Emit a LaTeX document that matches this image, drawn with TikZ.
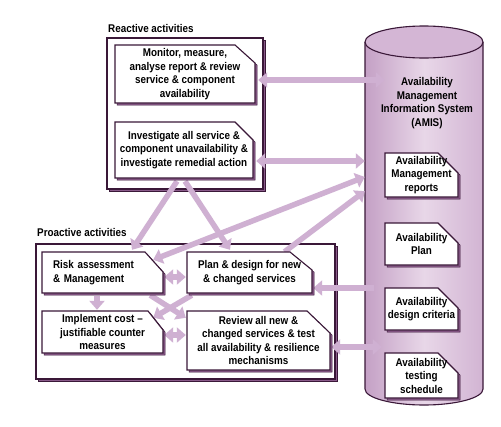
\documentclass[tikz,border=0pt]{standalone}
\usepackage{fontspec}
\setmainfont{Liberation Sans}[FakeStretch=0.88]
\usetikzlibrary{arrows.meta,calc}
\definecolor{dk}{HTML}{3A1838}
\definecolor{shc}{HTML}{8A5A8A}
\definecolor{arrc}{HTML}{CFB0D2}
\definecolor{cylA}{HTML}{C4A0C5}
\definecolor{cylB}{HTML}{E8D7E8}
\definecolor{cylC}{HTML}{D2B4D3}
\definecolor{cyltop}{HTML}{D4B6D5}
\pgfdeclarelayer{bg}
\pgfdeclarelayer{mid}
\pgfsetlayers{bg,mid,main}
\tikzset{
  txt/.style={font=\bfseries\fontsize{11.2}{13.5}\selectfont, align=center, inner sep=0pt, text=black},
  arr/.style={draw=arrc, line width=5.5pt, -{Triangle[width=15pt,length=9pt]}},
  darr/.style={draw=arrc, line width=5.5pt, {Triangle[width=15pt,length=9pt]}-{Triangle[width=15pt,length=9pt]}},
  shadowst/.style={fill=shc, draw=dk, line width=0.5pt},
  boxst/.style={fill=white, draw=dk, line width=1.1pt},
}
\newcommand\dogbox[9]{%
  \filldraw[shadowst] (#2+2.2,#3+2.2) -- (#4-#6+2.2,#3+2.2) -- (#4+2.2,#3+#7+2.2) -- (#4+2.2,#5+2.2) -- (#2+2.2,#5+2.2) -- cycle;
  \filldraw[boxst] (#2,#3) -- (#4-#6,#3) -- (#4,#3+#7) -- (#4,#5) -- (#2,#5) -- cycle;
  \node[txt, minimum width={#4-#2}, minimum height={#5-#3}, #8] (#1) at ({(#2+#4)/2},{(#3+#5)/2}) {#9};
}
\begin{document}
\begin{tikzpicture}[x=1pt,y=-1pt]
\begin{pgfonlayer}{bg}
\useasboundingbox[fill=white] (0,0) rectangle (501,426);
% outer boxes
\filldraw[shadowst] (109.2,40.2) rectangle (265.2,191.2);
\node[boxst, inner sep=0pt, minimum width=156, minimum height=151] (reac) at (185,113.5) {};
\filldraw[shadowst] (38.2,246.2) rectangle (337.2,381.2);
\node[boxst, inner sep=0pt, minimum width=299, minimum height=135] (proa) at (185.5,311.5) {};
% cylinder
\shade[left color=cylA, right color=cylC, middle color=cylB] (365,42) -- (365,389) arc[start angle=180, end angle=360, x radius=59pt, y radius=16pt] -- (483,42) -- cycle;
\draw[dk, line width=1.1pt] (365,42) -- (365,389) arc[start angle=180, end angle=360, x radius=59pt, y radius=16pt] -- (483,42);
\filldraw[fill=cyltop, draw=dk, line width=1.1pt] (424,42) ellipse [x radius=59pt, y radius=16pt];
\end{pgfonlayer}
\node[inner sep=0pt, minimum width=118, minimum height=347] (cyl) at (424,215.5) {};
\node[txt, anchor=base west] (reaclbl) at (108,32) {Reactive activities};
\node[txt, anchor=base west] (proalbl) at (37,236) {Proactive activities};
\node[txt] (amis) at (427,103) {Availability\\Management\\Information System\\(AMIS)};
\dogbox{mon}{115}{45}{255}{103}{20}{18}{}{Monitor, measure,\\analyse report \& review\\service \& component\\availability}
\dogbox{inv}{115}{122}{253}{178}{18}{18}{}{Investigate all service \&\\component unavailability \&\\investigate remedial action}
\dogbox{risk}{42}{252}{163}{293}{18}{20}{align=left, text width=99pt}{Risk assessment\\\& Management}
\dogbox{impl}{42}{311}{163}{353}{15}{19}{}{Implement cost --\\justifiable counter\\measures}
\dogbox{plan}{187}{252}{312}{293}{22}{18}{}{Plan \& design for new\\\& changed services}
\dogbox{rev}{187}{311}{330}{370}{23}{22}{}{Review all new \&\\changed services \& test\\all availability \& resilience\\mechanisms}
\dogbox{amr}{385}{153}{458}{197}{20}{20}{}{Availability\\Management\\reports}
\dogbox{apl}{385}{223}{458}{265}{20}{20}{}{Availability\\Plan}
\dogbox{adc}{385}{288}{458}{330}{20}{20}{}{Availability\\design criteria}
\dogbox{ats}{385}{353}{458}{398}{20}{20}{}{Availability\\testing\\schedule}
% arrows
\begin{pgfonlayer}{mid}
\draw[darr] ($(mon.east)+(3,6)$) -- ($(cyl.west|-mon.east)+(20,6)$);
\draw[darr] ($(inv.east)+(3,11)$) -- ($(cyl.west|-inv.east)+(0,11)$);
\draw[darr] ($(risk.north east)+(-10,8)$) -- ($(cyl.north west)!0.389!(cyl.south west)$);
\draw[arr] ($(plan.north)+(35,0)$) -- ($(cyl.north west)!0.43!(cyl.south west)$);
\draw[arr] ($(inv.south)+(-7,3)$) -- ($(risk.north)+(29.5,-2)$);
\draw[arr] ($(inv.south)+(1,3)$) -- ($(plan.north)+(-19.5,-2)$);
\draw[arr] ($(risk.south east)+(-13,2)$) -- ($(rev.north west)+(-1,7)$);
\draw[arr] ($(plan.south west)+(5,2)$) -- ($(impl.north east)+(-10,7)$);
\draw[arr] ($(risk.south)+(-5.5,3)$) -- ($(impl.north)+(-5.5,-1)$);
\draw[darr] ($(risk.east)+(1,4.5)$) -- ($(plan.west|-risk.east)+(-1,4.5)$);
\draw[darr] ($(impl.east)+(1,3)$) -- ($(rev.west|-impl.east)+(-1,3)$);
\draw[arr] ($(cyl.west|-plan.east)+(9,15.5)$) -- ($(plan.east)+(1,15.5)$);
\draw[darr] ($(rev.east)+(1,6.5)$) -- ($(cyl.west|-rev.east)+(17,6.5)$);
\end{pgfonlayer}
\end{tikzpicture}
\end{document}
